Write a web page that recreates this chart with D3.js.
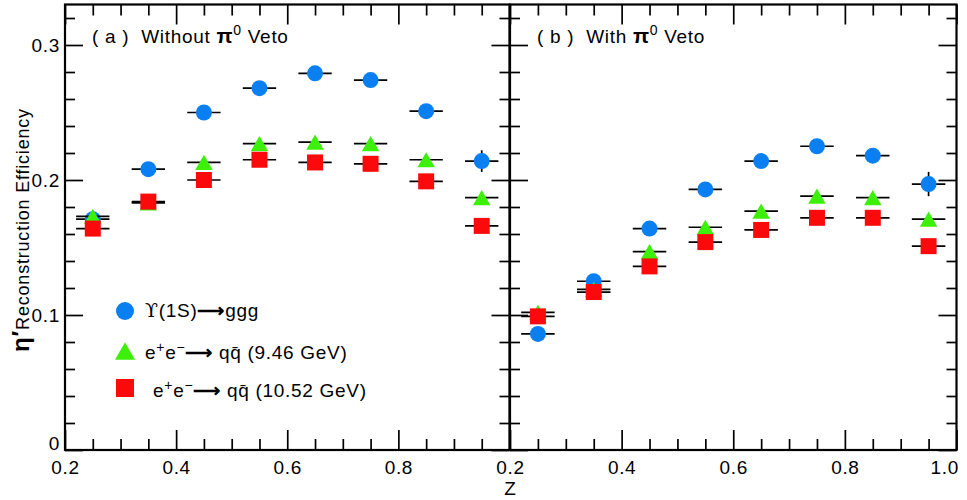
<!DOCTYPE html>
<html>
<head>
<meta charset="utf-8">
<script src="https://cdn.jsdelivr.net/npm/d3@7"></script>
<style>
  html, body { margin: 0; padding: 0; background: #fff; }
  svg { display: block; }
  text { font-family: "Liberation Sans", Arial, Helvetica, sans-serif; fill: #000; }
</style>
</head>
<body>
<script>
// ---------------- data ----------------
const zCenters = [0.25, 0.35, 0.45, 0.55, 0.65, 0.75, 0.85, 0.95];
const zHalfWidth = 0.03;

// Panel (a) without pi0 veto
const upsA   = [0.171, 0.208, 0.250, 0.268, 0.279, 0.274, 0.251, 0.214];
const q946A  = [0.173, 0.183, 0.213, 0.227, 0.228, 0.227, 0.215, 0.187];
const q1052A = [0.164, 0.184, 0.200, 0.215, 0.213, 0.212, 0.199, 0.166];
const upsAErr   = [0.002, 0.002, 0.002, 0.002, 0.002, 0.002, 0.003, 0.008];
const q946AErr  = [0.002, 0.002, 0.002, 0.002, 0.002, 0.002, 0.002, 0.003];
const q1052AErr = [0.002, 0.002, 0.002, 0.002, 0.002, 0.002, 0.002, 0.002];

// Panel (b) with pi0 veto
const upsB   = [0.086, 0.125, 0.164, 0.193, 0.214, 0.225, 0.218, 0.197];
const q946B  = [0.102, 0.119, 0.147, 0.165, 0.177, 0.188, 0.187, 0.171];
const q1052B = [0.099, 0.117, 0.136, 0.154, 0.163, 0.172, 0.172, 0.151];
const upsBErr   = [0.002, 0.002, 0.002, 0.002, 0.002, 0.002, 0.003, 0.009];
const q946BErr  = [0.002, 0.002, 0.002, 0.002, 0.002, 0.002, 0.002, 0.003];
const q1052BErr = [0.002, 0.002, 0.002, 0.002, 0.002, 0.002, 0.002, 0.002];

const xMajor = [0.2, 0.4, 0.6, 0.8, 1.0];
const xMinor = [0.25, 0.3, 0.35, 0.45, 0.5, 0.55, 0.65, 0.7, 0.75, 0.85, 0.9, 0.95];
const yMajor = [0, 0.1, 0.2, 0.3];
const yMinor = [0.02, 0.04, 0.06, 0.08, 0.12, 0.14, 0.16, 0.18, 0.22, 0.24, 0.26, 0.28, 0.32];

const seriesNames = ["ups", "q946", "q1052"];
const colors = { ups: "#0a7ff2", q946: "#3cf00a", q1052: "#fa0a0a" };

// ---------------- layout ----------------
const W = 967, H = 500;
const yTop = 4.5, yBot = 450;
const panels = [
  { id: "a", x0: 65, x1: 509.5, title: "Without", labels: true,
    data: { ups: [upsA, upsAErr], q946: [q946A, q946AErr], q1052: [q1052A, q1052AErr] } },
  { id: "b", x0: 510, x1: 956.5, title: "With", labels: false,
    data: { ups: [upsB, upsBErr], q946: [q946B, q946BErr], q1052: [q1052B, q1052BErr] } }
];

const svg = d3.select("body").append("svg").attr("width", W).attr("height", H);
const y = d3.scaleLinear().domain([0, 0.33]).range([yBot, yTop]);

const LS = "0.7px";
const FS = 19;

function styleAxis(g, hideText) {
  g.select(".domain").remove();
  g.selectAll(".tick line").attr("stroke", "#000").attr("stroke-width", 1.7);
  g.selectAll(".tick text").attr("font-size", FS).attr("letter-spacing", LS)
    .attr("font-family", "Liberation Sans, Arial, sans-serif").attr("fill", "#000");
  if (hideText) g.selectAll(".tick text").remove();
}

function markerPath(name, size) {
  if (name === "ups") return d3.symbol(d3.symbolCircle, Math.PI * (size / 2) * (size / 2))();
  if (name === "q946") return d3.symbol(d3.symbolTriangle, Math.sqrt(3) / 4 * size * size)();
  return d3.symbol(d3.symbolSquare, size * size)();
}
function markerShift(name, size) {
  return name === "q946" ? (size * Math.sqrt(3) / 2) / 6 : 0;
}

panels.forEach(p => {
  const x = d3.scaleLinear().domain([0.2, 1.0]).range([p.x0, p.x1]);
  const g = svg.append("g");

  // bottom axis
  const fmt = d => (p.id === "a" && d === 1.0) ? "" : d3.format(".1f")(d);
  g.append("g").attr("transform", `translate(0,${yBot})`)
    .call(d3.axisBottom(x).tickValues(xMajor).tickSize(-20).tickPadding(11).tickFormat(fmt))
    .call(a => styleAxis(a, false))
    .call(a => a.selectAll(".tick text").filter(d => d === 1.0)
      .attr("text-anchor", "end").attr("dx", 2));
  g.append("g").attr("transform", `translate(0,${yBot})`)
    .call(d3.axisBottom(x).tickValues(xMinor).tickSize(-11).tickFormat(""))
    .call(a => styleAxis(a, true));
  // top axis
  g.append("g").attr("transform", `translate(0,${yTop})`)
    .call(d3.axisTop(x).tickValues(xMajor).tickSize(-20).tickFormat(""))
    .call(a => styleAxis(a, true));
  g.append("g").attr("transform", `translate(0,${yTop})`)
    .call(d3.axisTop(x).tickValues(xMinor).tickSize(-11).tickFormat(""))
    .call(a => styleAxis(a, true));
  // left axis
  g.append("g").attr("transform", `translate(${p.x0},0)`)
    .call(d3.axisLeft(y).tickValues(yMajor).tickSize(-18).tickPadding(5).tickFormat(d3.format("")))
    .call(a => styleAxis(a, !p.labels))
    .call(a => a.selectAll(".tick text").filter(d => d === 0).attr("y", -7));
  g.append("g").attr("transform", `translate(${p.x0},0)`)
    .call(d3.axisLeft(y).tickValues(yMinor).tickSize(-10).tickFormat(""))
    .call(a => styleAxis(a, true));
  // right axis
  g.append("g").attr("transform", `translate(${p.x1},0)`)
    .call(d3.axisRight(y).tickValues(yMajor).tickSize(-18).tickFormat(""))
    .call(a => styleAxis(a, true));
  g.append("g").attr("transform", `translate(${p.x1},0)`)
    .call(d3.axisRight(y).tickValues(yMinor).tickSize(-10).tickFormat(""))
    .call(a => styleAxis(a, true));

  // frame
  g.append("rect").attr("x", p.x0).attr("y", yTop)
    .attr("width", p.x1 - p.x0).attr("height", yBot - yTop)
    .attr("fill", "none").attr("stroke", "#000").attr("stroke-width", 2.2);

  // title
  const t = g.append("text").attr("x", p.x0 + 27).attr("y", 43)
    .attr("font-size", FS).attr("letter-spacing", LS);
  t.append("tspan").text(`( ${p.id} )  ${p.title} `).attr("xml:space", "preserve");
  t.append("tspan").text("π").attr("font-weight", "bold").attr("font-size", 21);
  t.append("tspan").text("0").attr("font-size", 14).attr("dy", -8);
  t.append("tspan").text(" Veto").attr("dy", 8);

  // data
  seriesNames.forEach(name => {
    const [vals, errs] = p.data[name];
    const pts = zCenters.map((z, i) => ({ z, v: vals[i], e: errs[i] }));
    const sg = g.append("g");
    sg.selectAll("line.xe").data(pts).join("line")
      .attr("x1", d => x(d.z - zHalfWidth)).attr("x2", d => x(d.z + zHalfWidth))
      .attr("y1", d => y(d.v)).attr("y2", d => y(d.v))
      .attr("stroke", "#000").attr("stroke-width", 1.7);
    sg.selectAll("line.ye").data(pts).join("line")
      .attr("x1", d => x(d.z)).attr("x2", d => x(d.z))
      .attr("y1", d => y(d.v - d.e)).attr("y2", d => y(d.v + d.e))
      .attr("stroke", "#000").attr("stroke-width", 1.7);
    const size = name === "q946" ? 17.5 : 16;
    sg.selectAll("path").data(pts).join("path")
      .attr("d", markerPath(name, size))
      .attr("transform", d => `translate(${x(d.z)},${y(d.v) + markerShift(name, size)})`)
      .attr("fill", colors[name]);
  });
});

// Y axis title
const yt = svg.append("text").attr("transform", "translate(29,230) rotate(-90)")
  .attr("text-anchor", "middle").attr("font-size", 18).attr("letter-spacing", "0.8px");
yt.append("tspan").text("η′").attr("font-weight", "bold").attr("font-size", 24);
yt.append("tspan").text("Reconstruction Efficiency");

// X axis title
svg.append("text").attr("x", 510).attr("y", 495).attr("text-anchor", "middle")
  .attr("font-size", FS).text("Z");

// Legend
const legend = [
  { name: "ups", cy: 311, tx: 145, ty: 317 },
  { name: "q946", cy: 351, tx: 145, ty: 359 },
  { name: "q1052", cy: 388, tx: 153, ty: 397 }
];
legend.forEach(l => {
  const size = l.name === "q946" ? 20 : 18;
  svg.append("path").attr("d", markerPath(l.name, size))
    .attr("transform", `translate(125,${l.cy + markerShift(l.name, size)})`)
    .attr("fill", colors[l.name]);
  const t = svg.append("text").attr("x", l.tx).attr("y", l.ty)
    .attr("font-size", FS).attr("letter-spacing", LS);
  if (l.name === "ups") {
    t.append("tspan").text("ϒ").attr("font-family", "DejaVu Serif, serif");
    t.append("tspan").text("(1S)");
    t.append("tspan").text("⟶").attr("font-weight", "bold");
    t.append("tspan").text("ggg");
  } else {
    t.append("tspan").text("e");
    t.append("tspan").text("+").attr("font-size", 14).attr("dy", -7);
    t.append("tspan").text("e").attr("dy", 7);
    t.append("tspan").text("−").attr("font-size", 14).attr("dy", -7);
    t.append("tspan").text("⟶").attr("dy", 7).attr("font-weight", "bold");
    t.append("tspan").text(" qq̄ ");
    t.append("tspan").text(l.name === "q946" ? "(9.46 GeV)" : "(10.52 GeV)");
  }
});
</script>
</body>
</html>
